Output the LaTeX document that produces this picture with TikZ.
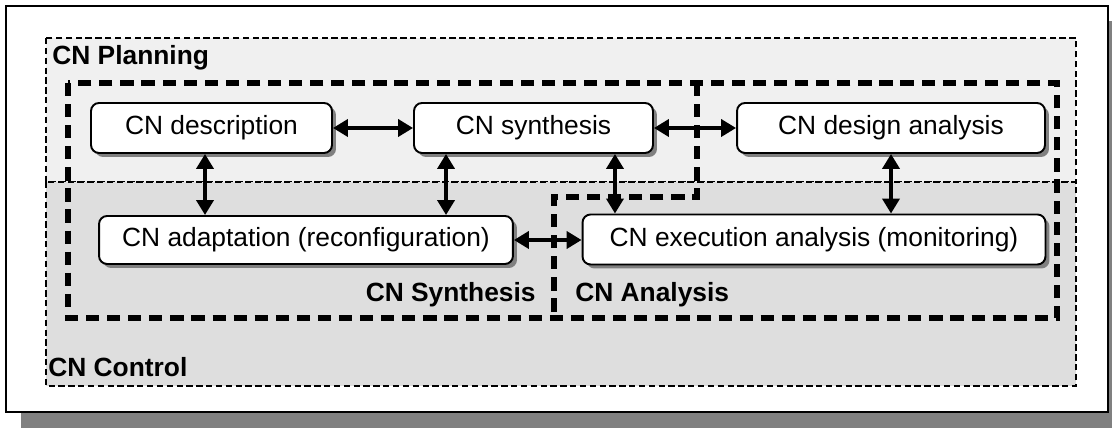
\documentclass[tikz,border=0pt]{standalone}
\usepackage{fontspec}
\setmainfont{Liberation Sans}
\usetikzlibrary{arrows.meta,shadows}
\tikzstyle{task}=[shape=rectangle,rounded corners=0.16cm,draw,line width=1.1pt,fill=white,
  minimum height=1cm,inner sep=0pt,font=\fontsize{15}{18}\selectfont,
  drop shadow={shadow xshift=0.08cm,shadow yshift=-0.08cm,fill=black!50,opacity=1}]
\tikzstyle{link}=[<->,>={Triangle[length=0.3cm,width=0.34cm]},line width=2.4pt]
\tikzstyle{layer}=[draw,line width=1.1pt,dash pattern=on 3.6pt off 2pt]
\tikzstyle{group}=[draw,line width=2.9pt,dash pattern=on 7.5pt off 4.5pt]
\tikzstyle{tag}=[font=\fontsize{15}{18}\selectfont\bfseries,inner sep=0pt]

\begin{document}
\begin{tikzpicture}[x=0.02cm,y=-0.02cm]
            \useasboundingbox (0,0) rectangle (1112,428);
            % frame
            \fill[black!50] (21,21) rectangle (1112,428);
            \draw[fill=white,line width=1.1pt] (6,6) rectangle (1108,412);
            % layers
            \path[layer,fill=black!6] (46,38) rectangle (1076,182);
            \path[layer,fill=black!13] (46,182) rectangle (1076,386);
            % groups
            \path[group] (68,83) rectangle (1057,318);
            \path[group] (697,83) -- (697,197) -- (554,197) -- (554,318);

            \node[task,minimum width=4.82cm] (desc) at (211.5,128) {CN description}
            ;
            \node[task,minimum width=4.78cm] (synth) at (533.5,128) {CN synthesis}
                edge[link] (desc)
            ;
            \node[task,minimum width=6.16cm] (design) at (891,128) {CN design analysis}
                edge[link] (synth)
            ;
            \node[task,minimum width=8.28cm,minimum height=0.96cm] (adapt) at (306,240) {CN adaptation (reconfiguration)}
            ;
            \node[task,minimum width=9.26cm] (exec) at (814,239.5) {CN execution analysis (monitoring)}
            ;
            \draw[link] ([xshift=-0.13cm]desc.south) -- ([xshift=-0.13cm]desc.south |- adapt.north);
            \draw[link] ([xshift=-1.75cm]synth.south) -- ([xshift=-1.75cm]synth.south |- adapt.north);
            \draw[link] ([xshift=1.63cm]synth.south) -- ([xshift=1.63cm]synth.south |- exec.north);
            \draw[link] (design.south) -- (design.south |- exec.north);
            \draw[link] (adapt.east) -- (adapt.east -| exec.west);

            \node[tag,anchor=base west] (planning) at (52,65) {CN Planning};
            \node[tag,anchor=base west] (control) at (48,377) {CN Control};
            \node[tag,anchor=base east] (synthesis) at (536,302) {CN Synthesis};
            \node[tag,anchor=base west] (analysis) at (575,302) {CN Analysis};
        \end{tikzpicture}
\end{document}
